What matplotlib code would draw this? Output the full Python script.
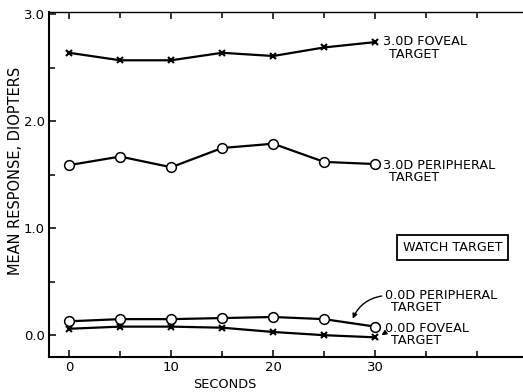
import numpy as np
import matplotlib.pyplot as plt
from matplotlib.ticker import MultipleLocator

# Data
seconds = [0, 5, 10, 15, 20, 25, 30]
foveal_3d = [2.64, 2.57, 2.57, 2.64, 2.61, 2.69, 2.74]
peripheral_3d = [1.59, 1.67, 1.57, 1.75, 1.79, 1.62, 1.60]
peripheral_0d = [0.13, 0.15, 0.15, 0.16, 0.17, 0.15, 0.08]
foveal_0d = [0.06, 0.08, 0.08, 0.07, 0.03, 0.00, -0.02]

plt.rcParams['font.family'] = 'DejaVu Sans'

fig = plt.figure(figsize=(5.23, 3.92), dpi=100)
ax = fig.add_axes([0.094, 0.089, 0.906, 0.880])

lw = 1.6
ax.plot(seconds, foveal_3d, color='black', lw=lw, marker='x', ms=4, mew=1.5)
ax.plot(seconds, peripheral_3d, color='black', lw=lw, marker='o', ms=7,
        mfc='white', mew=1.1)
ax.plot(seconds, foveal_0d, color='black', lw=lw, marker='x', ms=4, mew=1.5)
ax.plot(seconds, peripheral_0d, color='black', lw=lw, marker='o', ms=7,
        mfc='white', mew=1.1)

ax.set_xlim(-1.96, 44.5)
ax.set_ylim(-0.205, 3.02)

ax.set_xticks([0, 10, 20, 30])
ax.set_xticklabels(['0', '10', '20', '30'])
ax.xaxis.set_minor_locator(MultipleLocator(5))
ax.set_yticks([0, 1, 2, 3])
ax.set_yticklabels(['0.0', '1.0', '2.0', '3.0'])
ax.yaxis.set_minor_locator(MultipleLocator(0.5))
ax.tick_params(which='both', direction='in', top=True, labelsize=9.5,
               width=1.1, pad=3)
ax.tick_params(which='major', length=5)
ax.tick_params(which='minor', length=4)
ax.set_xlim(-1.96, 44.5)

ax.spines['right'].set_visible(False)
for s in ['left', 'bottom', 'top']:
    ax.spines[s].set_linewidth(1.5)
ax.spines['top'].set_linewidth(1.0)

ax.set_ylabel('MEAN RESPONSE, DIOPTERS', fontsize=10.5)
ax.yaxis.set_label_coords(-0.055, 0.54)
ax.set_xlabel('SECONDS', fontsize=9.3)
ax.xaxis.set_label_coords(0.37, -0.06)

fs = 9.2
ax.text(30.8, 2.745, '3.0D FOVEAL', fontsize=fs, va='center')
ax.text(31.4, 2.625, 'TARGET', fontsize=fs, va='center')
ax.text(30.8, 1.59, '3.0D PERIPHERAL', fontsize=fs, va='center')
ax.text(31.4, 1.47, 'TARGET', fontsize=fs, va='center')
ax.text(31.0, 0.37, '0.0D PERIPHERAL', fontsize=fs, va='center')
ax.text(31.6, 0.255, 'TARGET', fontsize=fs, va='center')
ax.text(31.0, 0.065, '0.0D FOVEAL', fontsize=fs, va='center')
ax.text(31.6, -0.05, 'TARGET', fontsize=fs, va='center')

ax.text(37.6, 0.82, 'WATCH TARGET', fontsize=fs, ha='center', va='center',
        bbox=dict(boxstyle='square,pad=0.45', fc='white', ec='black', lw=1.3))

ax.annotate('', xy=(27.7, 0.13), xytext=(30.9, 0.37),
            arrowprops=dict(arrowstyle='-|>', color='black', lw=1.0,
                            connectionstyle='arc3,rad=0.3', mutation_scale=7))
ax.annotate('', xy=(30.4, -0.015), xytext=(31.1, 0.03),
            arrowprops=dict(arrowstyle='-|>', color='black', lw=1.0,
                            mutation_scale=7))

fig.savefig('out.png', dpi=100)
